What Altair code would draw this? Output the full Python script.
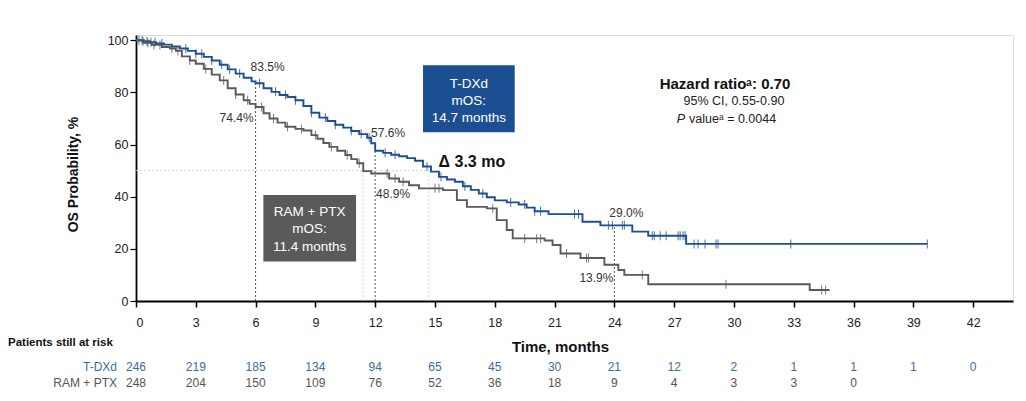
import altair as alt
import pandas as pd
import numpy as np

FONT = "Liberation Sans"
BLUE = "#1c4f92"
GRAY = "#5a5a5a"
BOX_BLUE = "#0d4b96"
BOX_GRAY = "#555759"
RISK_BLUE = "#3b6ca3"
TXT = "#333333"

# ---- Kaplan-Meier curves (months, OS %) ----
tdxd_t = [0, 0.3, 0.7, 1.0, 1.4, 1.8, 2.2, 2.6, 3.0, 3.4, 3.8, 4.2, 4.6, 5.0, 5.4, 5.8,
          6.0, 6.4, 6.8, 7.2, 7.6, 8.0, 8.4, 8.8, 9.2, 9.6, 10.0, 10.4, 10.8, 11.2, 11.6,
          11.8, 12.0, 12.4, 12.8, 13.2, 13.6, 14.0, 14.4, 14.8, 15.2, 15.6, 16.0, 16.4,
          16.8, 17.2, 17.6, 18.0, 18.6, 19.2, 19.6, 20.0, 20.7, 22.4, 23.3, 24.9, 25.7,
          27.6, 39.7]
tdxd_s = [100, 99.6, 99.2, 98.8, 98.3, 97.6, 96.8, 95.9, 94.8, 93.6, 92.2, 90.6, 88.8, 87.2, 85.6, 84.2,
          83.5, 81.6, 80.2, 79.0, 78.2, 77.0, 74.8, 72.2, 70.3, 69.0, 67.6, 66.5, 65.2, 64.0, 62.6,
          60.5, 57.6, 56.8, 56.1, 55.5, 54.8, 53.8, 51.6, 49.6, 47.6, 46.6, 45.7, 44.0,
          42.6, 41.2, 39.8, 38.6, 37.8, 37.0, 35.8, 34.4, 33.3, 30.4, 29.0, 26.6, 25.0,
          21.9, 21.9]

ram_t = [0, 0.4, 0.8, 1.3, 1.7, 2.0, 2.3, 2.7, 3.0, 3.4, 3.8, 4.2, 4.6, 5.0, 5.4, 5.7,
         6.0, 6.4, 6.7, 7.1, 7.5, 8.0, 8.4, 8.8, 9.1, 9.4, 9.7, 10.1, 10.5, 10.8, 11.1,
         11.4, 11.8, 12.7, 13.2, 13.7, 14.2, 15.4, 16.1, 16.6, 17.6, 18.1, 18.6, 18.9,
         20.5, 20.9, 21.3, 22.3, 23.5, 24.2, 24.5, 25.7, 33.8, 34.8]
ram_s = [100, 99.0, 98.2, 97.4, 96.8, 95.9, 93.8, 92.2, 91.0, 89.0, 86.8, 84.6, 81.6, 79.2, 77.0, 75.6,
         74.4, 72.0, 70.0, 68.4, 66.8, 66.0, 65.4, 63.6, 62.2, 60.6, 59.1, 57.6, 56.0, 54.4, 52.8,
         49.8, 48.9, 47.0, 45.7, 44.4, 43.2, 42.5, 38.7, 36.1, 35.5, 31.0, 27.2, 24.0,
         23.2, 21.5, 18.2, 16.5, 13.9, 11.9, 10.0, 6.4, 4.2, 4.2]

tdxd_cens = [0.15, 0.35, 0.55, 0.75, 0.95, 1.3, 2.5, 3.0, 3.3, 3.8, 4.3, 4.7, 5.2, 6.2, 7.0,
             7.5, 8.0, 8.8, 9.5, 10.0, 10.8, 11.3, 11.7, 12.5, 13.0, 14.6, 15.3, 16.5, 17.4,
             18.8, 19.5, 20.0, 20.3, 22.0, 22.2, 23.7, 23.9, 24.4, 24.5, 25.9, 26.0, 26.3,
             26.6, 27.2, 27.3, 27.45, 27.55, 28.0, 28.2, 28.55, 29.1, 29.2, 32.85, 39.7]
ram_cens = [0.3, 0.6, 0.9, 1.2, 1.8, 2.1, 2.7, 3.5, 4.4, 5.0, 5.6, 6.3, 6.9, 7.6, 8.3, 9.0,
            9.8, 10.6, 11.2, 12.6, 13.0, 13.4, 15.0, 15.2, 17.9, 19.5, 20.1, 20.3, 21.6,
            22.6, 22.7, 25.4, 29.6, 34.4, 34.6]

# ---- landmark values ----
land_lbl = ["83.5%", "74.4%", "57.6%", "48.9%", "29.0%", "13.9%"]
median_tdxd = 14.7
median_ram = 11.4

# ---- number at risk ----
risk_months = [0, 3, 6, 9, 12, 15, 18, 21, 24, 27, 30, 33, 36, 39, 42]
risk_tdxd = [246, 219, 185, 134, 94, 65, 45, 30, 21, 12, 2, 1, 1, 1, 0]
risk_ram = [248, 204, 150, 109, 76, 52, 36, 18, 9, 4, 3, 3, 0]

ARMS = ["T-DXd", "RAM + PTX"]


def step_val(ts, ss, times):
    idx = np.searchsorted(np.array(ts), np.array(times), side="right") - 1
    return [ss[i] for i in idx]


curve_df = pd.concat([
    pd.DataFrame({"x": tdxd_t, "y": tdxd_s, "arm": "T-DXd"}),
    pd.DataFrame({"x": ram_t, "y": ram_s, "arm": "RAM + PTX"}),
])
cens_df = pd.concat([
    pd.DataFrame({"x": tdxd_cens, "y": step_val(tdxd_t, tdxd_s, tdxd_cens), "arm": "T-DXd"}),
    pd.DataFrame({"x": ram_cens, "y": step_val(ram_t, ram_s, ram_cens), "arm": "RAM + PTX"}),
])

xs = alt.Scale(domain=[0, 44], nice=False, zero=False)
ys = alt.Scale(domain=[0, 102], nice=False, zero=False)
xaxis = alt.Axis(values=list(range(0, 43, 3)), grid=False, domainColor="black", domainWidth=1.8,
                 tickColor="black", tickWidth=1.5, tickSize=6, labelFont=FONT, labelFontSize=12.5,
                 labelColor="#222", labelPadding=9, titleFont=FONT, titleFontSize=15,
                 titleFontWeight="bold", titleColor="#111", titleX=424, titleY=38,
                 titleAnchor="start", titleAlign="center")
yaxis = alt.Axis(values=[0, 20, 40, 60, 80, 100], grid=False, domainColor="black", domainWidth=1.8,
                 tickColor="black", tickWidth=1.2, tickSize=6, labelFont=FONT, labelFontSize=12.5,
                 labelColor="#222", labelPadding=2, titleFont=FONT, titleFontSize=14,
                 titleFontWeight="bold", titleColor="#111", titleX=-56, titleY=139)


def X(f="x"):
    return alt.X(f, type="quantitative", scale=xs, axis=xaxis, title="Time, months")


def Y(f="y"):
    return alt.Y(f, type="quantitative", scale=ys, axis=yaxis, title="OS Probability, %")


color = alt.Color("arm:N", scale=alt.Scale(domain=ARMS, range=[BLUE, GRAY]), legend=None)

# reference lines
dash_df = pd.DataFrame({"x": [6, 12, 24], "y": [0, 0, 0], "y2": [83.5, 57.6, 29.0]})
dash = alt.Chart(dash_df).mark_rule(color="#444", strokeDash=[2, 2], strokeWidth=0.9).encode(
    x=X(), y=Y(), y2="y2")
light_v_df = pd.DataFrame({"x": [median_ram, median_tdxd], "y": [0, 0], "y2": [50, 50]})
light_v = alt.Chart(light_v_df).mark_rule(color="#d0d0d0", strokeDash=[2, 2], strokeWidth=0.9).encode(
    x=X(), y=Y(), y2="y2")
light_h_df = pd.DataFrame({"x": [0], "x2": [median_tdxd], "y": [50]})
light_h = alt.Chart(light_h_df).mark_rule(color="#d0d0d0", strokeDash=[2, 2], strokeWidth=0.9).encode(
    x=X(), x2="x2", y=Y())

curves = alt.Chart(curve_df).mark_line(interpolate="step-after", strokeWidth=1.9).encode(
    x=X(), y=Y(), color=color)
cens = alt.Chart(cens_df).mark_tick(orient="vertical", size=9, thickness=1, opacity=0.8).encode(
    x=X(), y=Y(), color=color)

# landmark labels
lab_df = pd.DataFrame({
    "x": [6.6, 5.9, 12.65, 12.9, 24.6, 23.1],
    "y": [89.7, 70.1, 64.5, 41.0, 33.6, 8.9],
    "txt": land_lbl,
    "al": ["center", "right", "center", "center", "center", "center"],
})
labs_c = alt.Chart(lab_df[lab_df.al == "center"]).mark_text(
    font=FONT, fontSize=12, color=TXT, align="center", baseline="middle").encode(
    x=X(), y=Y(), text="txt:N")
labs_r = alt.Chart(lab_df[lab_df.al == "right"]).mark_text(
    font=FONT, fontSize=12, color=TXT, align="right", baseline="middle").encode(
    x=X(), y=Y(), text="txt:N")

delta = alt.Chart(pd.DataFrame({"x": [16.85], "y": [53.4], "txt": ["Δ 3.3 mo"]})).mark_text(
    font=FONT, fontSize=16, fontWeight="bold", color="#111", align="center", baseline="middle").encode(
    x=X(), y=Y(), text="txt:N")

# boxes
box_df = pd.DataFrame({"x": [14.4, 6.39], "x2": [19.0, 11.04], "y": [90.4, 40.6], "y2": [64.7, 15.1],
                       "arm": ARMS})
boxes = alt.Chart(box_df).mark_rect().encode(
    x=X(), x2="x2", y=Y(), y2="y2",
    color=alt.Color("arm:N", scale=alt.Scale(domain=ARMS, range=[BOX_BLUE, BOX_GRAY]), legend=None))
box_txt_df = pd.DataFrame({
    "x": [16.7, 16.7, 16.7, 8.71, 8.71, 8.71],
    "y": [83.4, 76.8, 70.0, 34.2, 27.7, 20.8],
    "txt": ["T-DXd", "mOS:", "14.7 months", "RAM + PTX", "mOS:", "11.4 months"],
})
box_txt = alt.Chart(box_txt_df).mark_text(font=FONT, fontSize=13.5, color="white", align="center",
                                           baseline="middle").encode(x=X(), y=Y(), text="txt:N")

# hazard ratio block
hr_b = alt.Chart(pd.DataFrame({"x": [29.55], "y": [83.4], "txt": ["Hazard ratioᵃ: 0.70"]})).mark_text(
    font=FONT, fontSize=15, fontWeight="bold", color="#111", align="center", baseline="middle").encode(
    x=X(), y=Y(), text="txt:N")
hr_ci = alt.Chart(pd.DataFrame({"x": [30.0], "y": [76.7], "txt": ["95% CI, 0.55-0.90"]})).mark_text(
    font=FONT, fontSize=12.5, color="#222", align="center", baseline="middle").encode(
    x=X(), y=Y(), text="txt:N")
hr_p = alt.Chart(pd.DataFrame({"x": [27.55], "y": [69.7], "txt": ["P"]})).mark_text(
    font=FONT, fontSize=12.5, fontStyle="italic", color="#222", align="right", baseline="middle").encode(
    x=X(), y=Y(), text="txt:N")
hr_pv = alt.Chart(pd.DataFrame({"x": [27.55], "y": [69.7], "txt": ["valueᵃ = 0.0044"]})).mark_text(
    font=FONT, fontSize=12.5, color="#222", align="left", baseline="middle", dx=4).encode(
    x=X(), y=Y(), text="txt:N")

# number at risk table
risk_t_df = pd.DataFrame({"x": risk_months, "txt": [str(v) for v in risk_tdxd]})
risk_r_df = pd.DataFrame({"x": risk_months[:len(risk_ram)], "txt": [str(v) for v in risk_ram]})
risk_t = alt.Chart(risk_t_df).mark_text(font=FONT, fontSize=12, color=RISK_BLUE, align="center",
                                         baseline="middle").encode(x=X(), y=alt.value(332), text="txt:N")
risk_r = alt.Chart(risk_r_df).mark_text(font=FONT, fontSize=12, color="#555", align="center",
                                         baseline="middle").encode(x=X(), y=alt.value(348), text="txt:N")
row_df = pd.DataFrame({"lbl": ARMS, "arm": ARMS})
row_t = alt.Chart(row_df[row_df.arm == "T-DXd"]).mark_text(
    font=FONT, fontSize=12, color=RISK_BLUE, align="right", baseline="middle").encode(
    x=alt.value(-19), y=alt.value(332), text="lbl:N")
row_r = alt.Chart(row_df[row_df.arm == "RAM + PTX"]).mark_text(
    font=FONT, fontSize=12, color="#555", align="right", baseline="middle").encode(
    x=alt.value(-19), y=alt.value(348), text="lbl:N")
risk_title = alt.Chart(pd.DataFrame({"lbl": ["Patients still at risk"]})).mark_text(
    font=FONT, fontSize=11.5, fontWeight="bold", color="#111", align="left", baseline="middle").encode(
    x=alt.value(-128), y=alt.value(308), text="lbl:N")

chart = alt.layer(
    light_h, light_v, dash, curves, cens, labs_c, labs_r, delta, boxes, box_txt,
    hr_b, hr_ci, hr_p, hr_pv, risk_t, risk_r, row_t, row_r, risk_title,
).properties(
    width=877, height=266,
    autosize=alt.AutoSizeParams(type="none"),
    padding={"left": 128, "top": 27, "right": 5, "bottom": 90},
).configure_view(stroke=None).configure(background="white")

chart.save("out.html", embed_options={"renderer": "svg", "actions": False})
